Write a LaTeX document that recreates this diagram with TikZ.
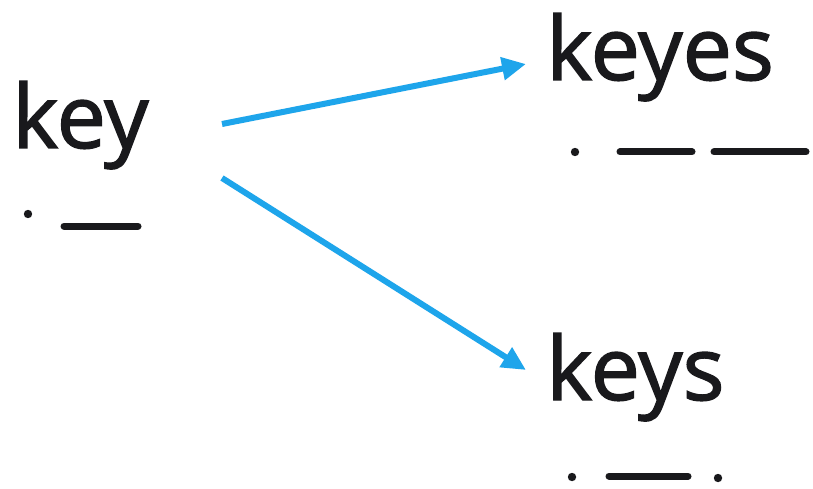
\documentclass[tikz,border=0pt]{standalone}
\usepackage{fontspec}
\setmainfont{Open Sans}
\newfontfamily\wordfont[FakeBold=1.6]{Open Sans}
\usetikzlibrary{arrows.meta}
\definecolor{arrowblue}{RGB}{30,165,235}
\definecolor{ink}{RGB}{25,25,28}
\tikzset{
  word/.style={inner sep=0pt, anchor=base west, text=ink, font=\wordfont\fontsize{88}{90}\selectfont},
  conn/.style={draw=arrowblue, line width=6pt, -{Triangle[length=24pt,width=22pt]}},
  dashmark/.style={draw=ink, line width=7pt, line cap=round},
  dotmark/.style={fill=ink}
}
\begin{document}
\begin{tikzpicture}[x=1pt,y=-1pt]
\useasboundingbox (0,0) rectangle (813,489);
\fill[white] (0,0) rectangle (813,489);
\node[word] (key) at (12,148) {key};
\node[word] (keyes) at (546,80) {keyes};
\node[word] (keys) at (546,400) {keys};
% Morse marks
\fill[dotmark] (28,214) circle (4.2);
\draw[dashmark] (64,226) -- (138,226);
\fill[dotmark] (575,152) circle (4.2);
\draw[dashmark] (620,152) -- (692,152);
\draw[dashmark] (714,152) -- (806,152);
\fill[dotmark] (572,477) circle (4.2);
\draw[dashmark] (609,476) -- (688,476);
\fill[dotmark] (718,478) circle (4.2);
% connectors
\coordinate (s1) at (222,124);
\coordinate (e1) at (526,64);
\coordinate (s2) at (222,178);
\coordinate (e2) at (526,370);
\draw[conn] (s1) -- (e1);
\draw[conn] (s2) -- (e2);
\end{tikzpicture}
\end{document}
